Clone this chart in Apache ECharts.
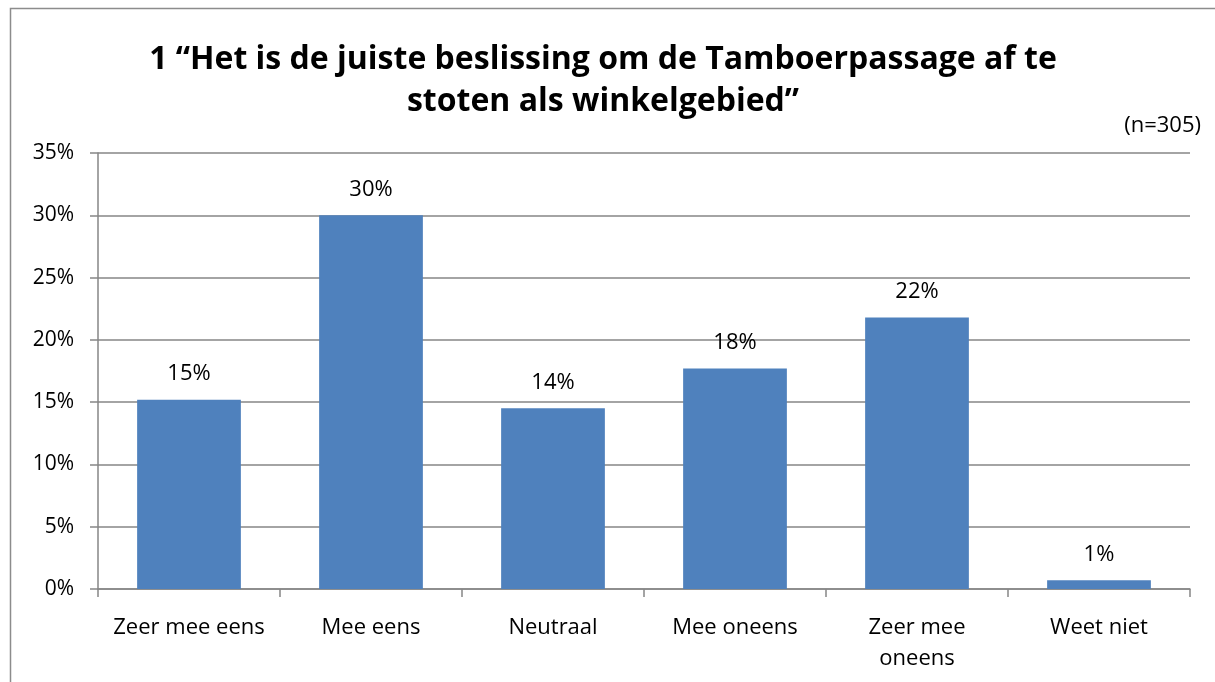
<!DOCTYPE html>
<html><head><meta charset="utf-8">
<script src="https://cdn.jsdelivr.net/npm/echarts@6/dist/echarts.min.js"></script>
<style>html,body{margin:0;padding:0;background:#fff}#c{width:1215px;height:682px}</style>
</head><body><div id="c"></div>
<script>
const categories = ['Zeer mee eens', 'Mee eens', 'Neutraal', 'Mee oneens', 'Zeer mee\noneens', 'Weet niet'];
const values = [15.2, 30.0, 14.5, 17.7, 21.8, 0.7];
const labels = ['15%', '30%', '14%', '18%', '22%', '1%'];
const yTicks = [0, 5, 10, 15, 20, 25, 30, 35];
const titleText = '1 \u201cHet is de juiste beslissing om de Tamboerpassage af te\nstoten als winkelgebied\u201d';
const noteText = '(n=305)';

const font = '"Open Sans", Lato, sans-serif';
const chart = echarts.init(document.getElementById('c'));
chart.setOption({
  animation: false,
  graphic: [
    { type: 'rect', shape: { x: 10.5, y: 8.5, width: 1220, height: 700 }, style: { fill: 'none', stroke: '#8c8c8c', lineWidth: 1.5 }, z: -1 },
    { type: 'text', right: 14, top: 115, style: { text: noteText, fontSize: 22, fontFamily: font, fill: '#000' } }
  ],
  title: {
    text: titleText, left: 598, textAlign: 'center', top: 34,
    textStyle: { fontSize: 32, fontWeight: 'bold', fontFamily: font, color: '#000', lineHeight: 42 }
  },
  grid: { left: 98, right: 25, top: 153, bottom: 93 },
  xAxis: {
    type: 'category', data: categories,
    axisLine: { lineStyle: { color: '#868686', width: 1.5 } },
    axisTick: { show: true, interval: 0, alignWithLabel: false, length: 8, lineStyle: { color: '#868686', width: 1.5 } },
    axisLabel: { interval: 0, hideOverlap: false, fontSize: 22, fontFamily: font, color: '#000', margin: 23, lineHeight: 31 }
  },
  yAxis: {
    type: 'value', min: 0, max: 35, interval: 5,
    axisLine: { show: true, lineStyle: { color: '#868686', width: 1.5 } },
    axisTick: { show: true, length: 8, lineStyle: { color: '#868686', width: 1.5 } },
    splitLine: { lineStyle: { color: '#868686', width: 1.5 } },
    axisLabel: { fontSize: 21, fontFamily: font, color: '#000', margin: 24,
      formatter: v => yTicks.includes(v) ? v + '%' : '' }
  },
  series: [{
    type: 'bar', data: values, barWidth: '57%',
    itemStyle: { color: '#4f81bd' },
    label: { show: true, position: 'top', distance: 15, fontSize: 22, fontFamily: font, color: '#000',
      formatter: p => labels[p.dataIndex] }
  }]
});
</script></body></html>
